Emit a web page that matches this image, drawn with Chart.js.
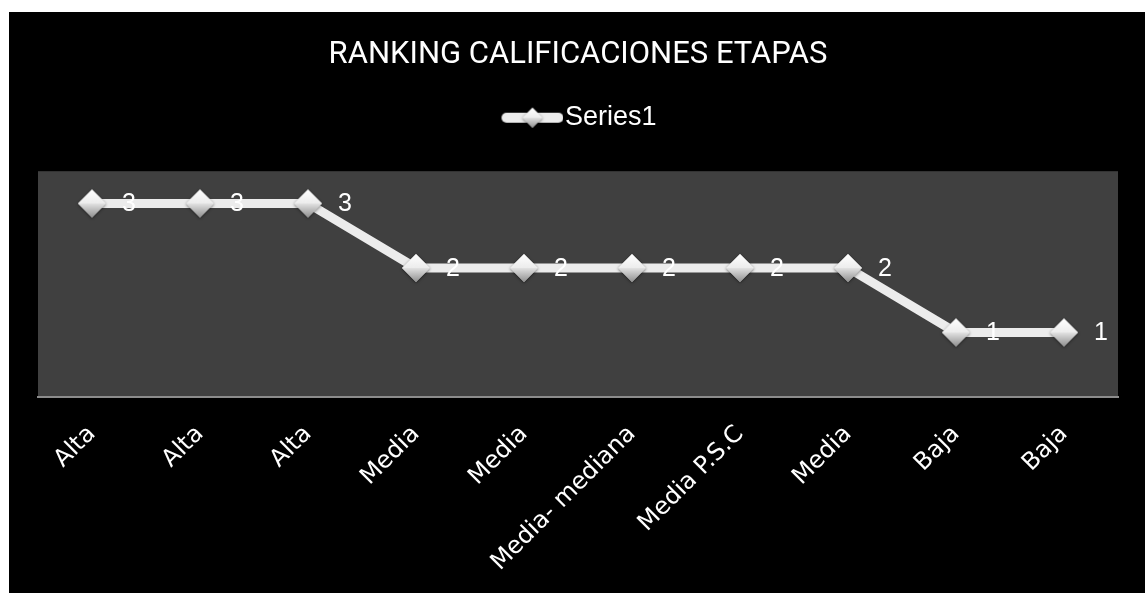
<!DOCTYPE html>
<html>
<head>
<meta charset="utf-8">
<script src="https://cdn.jsdelivr.net/npm/chart.js@4.4.1/dist/chart.umd.min.js"></script>
<style>
  body { margin: 0; background: #ffffff; }
  #wrap { position: absolute; left: 9px; top: 12px; width: 1136px; height: 581px; background: #000000; }
</style>
</head>
<body>
<div id="wrap"><canvas id="rankingChart"></canvas></div>
<script>
const titleText = "RANKING CALIFICACIONES ETAPAS";
const seriesName = "Series1";
const categories = ["Alta", "Alta", "Alta", "Media", "Media", "Media- mediana", "Media P.S.C", "Media", "Baja", "Baja"];
const rankValues = [3, 3, 3, 2, 2, 2, 2, 2, 1, 1];

// shaded diamond used as the point marker
function diamondImage(r) {
  const s = Math.ceil(r * 2 + 8);
  const c = document.createElement("canvas");
  c.width = s;
  c.height = s;
  const ctx = c.getContext("2d");
  const m = s / 2;
  ctx.save();
  ctx.shadowColor = "rgba(0,0,0,0.5)";
  ctx.shadowBlur = 3;
  ctx.shadowOffsetY = 1;
  ctx.beginPath();
  ctx.moveTo(m, m - r);
  ctx.lineTo(m + r, m);
  ctx.lineTo(m, m + r);
  ctx.lineTo(m - r, m);
  ctx.closePath();
  ctx.fillStyle = "#cfcfcf";
  ctx.fill();
  ctx.restore();

  let g = ctx.createLinearGradient(0, m - r, 0, m);
  g.addColorStop(0, "#ffffff");
  g.addColorStop(1, "#ececec");
  ctx.beginPath();
  ctx.moveTo(m, m - r);
  ctx.lineTo(m + r, m);
  ctx.lineTo(m - r, m);
  ctx.closePath();
  ctx.fillStyle = g;
  ctx.fill();

  g = ctx.createLinearGradient(0, m, 0, m + r);
  g.addColorStop(0, "#e2e2e2");
  g.addColorStop(1, "#8f8f8f");
  ctx.beginPath();
  ctx.moveTo(m - r, m);
  ctx.lineTo(m + r, m);
  ctx.lineTo(m, m + r);
  ctx.closePath();
  ctx.fillStyle = g;
  ctx.fill();
  return c;
}

// legend sample: thick line with a marker in the middle (drawn a bit right of centre)
function legendImage() {
  const c = document.createElement("canvas");
  c.width = 76;
  c.height = 26;
  const ctx = c.getContext("2d");
  ctx.strokeStyle = "#ececec";
  ctx.lineWidth = 10;
  ctx.lineCap = "round";
  ctx.beginPath();
  ctx.moveTo(19, 13);
  ctx.lineTo(71, 13);
  ctx.stroke();
  const d = diamondImage(10);
  ctx.drawImage(d, 45 - d.width / 2, 13 - d.height / 2);
  return c;
}

const plotBackground = {
  id: "plotBackground",
  beforeDraw(chart) {
    const { ctx, chartArea } = chart;
    ctx.save();
    ctx.fillStyle = "#000000";
    ctx.fillRect(0, 0, chart.width, chart.height);
    ctx.fillStyle = "#404040";
    ctx.fillRect(chartArea.left, chartArea.top, chartArea.right - chartArea.left, chartArea.bottom - chartArea.top);
    ctx.restore();
  },
};

// extra room between the legend and the plot
const legendGap = {
  id: "legendGap",
  afterInit(chart) {
    const legend = chart.legend;
    if (!legend) return;
    const fit = legend.fit;
    legend.fit = function () {
      fit.call(this);
      this.height += 30;
    };
  },
};

const valueLabels = {
  id: "valueLabels",
  afterDatasetsDraw(chart) {
    const ctx = chart.ctx;
    const meta = chart.getDatasetMeta(0);
    ctx.save();
    ctx.font = "25px 'Liberation Sans', Arial, sans-serif";
    ctx.fillStyle = "#ffffff";
    ctx.textAlign = "left";
    ctx.textBaseline = "middle";
    meta.data.forEach(function (pt, i) {
      ctx.fillText(String(rankValues[i]), pt.x + 30, pt.y + 1);
    });
    ctx.restore();
  },
};

const marker = diamondImage(14);

new Chart(document.getElementById("rankingChart").getContext("2d"), {
  type: "line",
  data: {
    labels: categories,
    datasets: [
      {
        label: seriesName,
        data: rankValues,
        borderColor: "#ececec",
        borderWidth: 9,
        pointStyle: marker,
        tension: 0,
      },
    ],
  },
  options: {
    responsive: true,
    maintainAspectRatio: false,
    animation: false,
    layout: { padding: { left: 29, right: 27, top: 0, bottom: 0 } },
    plugins: {
      title: {
        display: true,
        text: titleText,
        color: "#ffffff",
        font: { family: "Roboto", size: 31, weight: "normal" },
        padding: { top: 25, bottom: 16 },
      },
      legend: {
        display: true,
        labels: {
          color: "#ffffff",
          font: { family: "'Liberation Sans'", size: 27 },
          usePointStyle: true,
          pointStyle: legendImage(),
          pointStyleWidth: 52,
          padding: 14,
        },
      },
      tooltip: { enabled: false },
    },
    scales: {
      x: {
        offset: true,
        grid: { display: false, drawTicks: false },
        border: { display: true, color: "#8c8c8c", width: 2 },
        ticks: {
          color: "#ffffff",
          font: { family: "'DejaVu Sans'", size: 24 },
          maxRotation: 45,
          minRotation: 45,
          padding: 23,
          autoSkip: false,
        },
        afterFit(scale) {
          scale.height = 196;
        },
      },
      y: {
        display: false,
        min: 0,
        max: 3.5,
      },
    },
  },
  plugins: [plotBackground, legendGap, valueLabels],
});
</script>
</body>
</html>
